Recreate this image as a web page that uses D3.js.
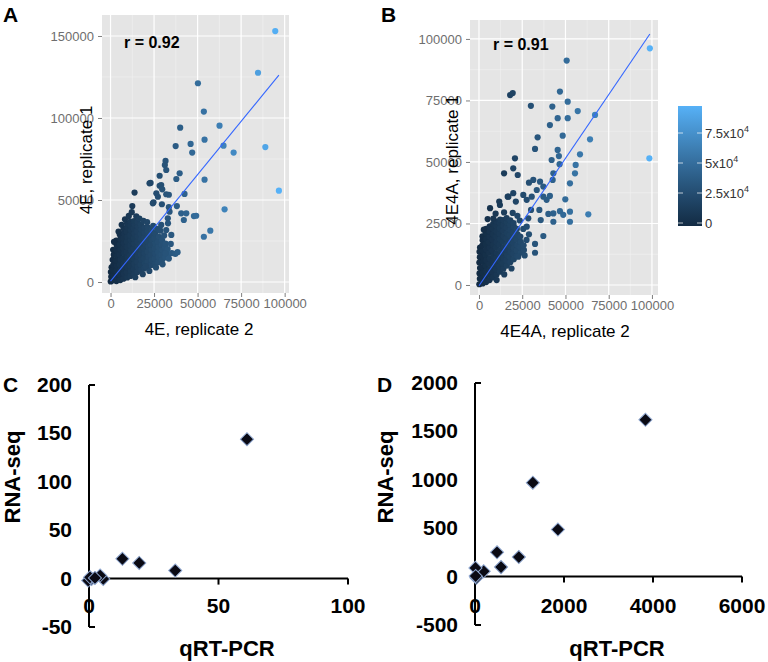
<!DOCTYPE html>
<html><head><meta charset="utf-8">
<script src="https://cdn.jsdelivr.net/npm/d3@7"></script>
<style>body{margin:0;background:#fff}</style>
</head><body>
<svg id="c" width="768" height="662"></svg>
<script>
// ---------- DATA (values in thousands for panels A/B) ----------
const aBlob = [
[0.1,0.3],[0.4,3.2],[0.2,6.1],[0.6,9.0],
[1.4,1.0],[1.7,4.2],[1.3,7.3],[1.6,10.4],[1.2,13.5],[1.8,16.6],[1.5,19.6],
[3.4,0.6],[3.7,3.8],[3.3,6.9],[3.6,10.0],[3.2,13.1],[3.8,16.2],[3.4,19.3],[3.6,22.4],[3.3,25.2],
[5.6,1.2],[5.3,4.4],[5.7,7.5],[5.4,10.6],[5.8,13.7],[5.2,16.8],[5.6,19.9],[5.4,23.0],[5.7,26.1],[5.3,28.9],
[7.4,2.0],[7.7,5.1],[7.3,8.2],[7.6,11.3],[7.2,14.4],[7.8,17.5],[7.4,20.6],[7.6,23.7],[7.3,26.8],[7.7,29.9],[7.5,32.6],
[9.6,2.8],[9.3,5.9],[9.7,9.0],[9.4,12.1],[9.8,15.2],[9.2,18.3],[9.6,21.4],[9.4,24.5],[9.7,27.6],[9.3,30.7],[9.6,33.6],[9.5,35.8],
[11.4,3.7],[11.7,6.8],[11.3,9.9],[11.6,13.0],[11.2,16.1],[11.8,19.2],[11.4,22.3],[11.6,25.4],[11.3,28.5],[11.7,31.6],[11.5,34.5],[11.4,36.9],
[13.6,4.8],[13.3,7.9],[13.7,11.0],[13.4,14.1],[13.8,17.2],[13.2,20.3],[13.6,23.4],[13.4,26.5],[13.7,29.6],[13.3,32.7],[13.6,35.4],[13.5,37.2],
[15.4,6.1],[15.7,9.2],[15.3,12.3],[15.6,15.4],[15.2,18.5],[15.8,21.6],[15.4,24.7],[15.6,27.8],[15.3,30.9],[15.7,33.8],[15.5,36.6],
[17.6,7.4],[17.3,10.5],[17.7,13.6],[17.4,16.7],[17.8,19.8],[17.2,22.9],[17.6,26.0],[17.4,29.1],[17.7,32.0],[17.5,34.8],
[19.4,8.3],[19.7,11.4],[19.3,14.5],[19.6,17.6],[19.2,20.7],[19.8,23.8],[19.4,26.9],[19.6,30.0],[19.5,33.1],
[21.6,9.2],[21.3,12.3],[21.7,15.4],[21.4,18.5],[21.8,21.6],[21.2,24.7],[21.6,27.8],[21.4,30.9],[21.5,33.2],
[23.4,10.3],[23.7,13.4],[23.3,16.5],[23.6,19.6],[23.2,22.7],[23.8,25.8],[23.4,28.9],[23.6,31.6],
[25.6,11.2],[25.3,14.3],[25.7,17.4],[25.4,20.5],[25.8,23.6],[25.2,26.7],[25.6,29.8],
[27.4,12.1],[27.7,15.2],[27.3,18.3],[27.6,21.4],[27.2,24.5],[27.8,27.6],
[29.6,13.4],[29.3,16.5],[29.7,19.6],[29.4,22.7],[29.6,25.6],
[31.4,15.0],[31.7,18.1],[31.3,21.2],[31.6,23.4],
[33.2,17.0],[32.8,20.1],
[2.0,24.5],[4.6,30.8],[6.4,34.9],[8.3,38.2],[10.5,40.3],[12.2,42.6],[14.8,40.1],[16.6,38.7],[18.9,37.3],[21.0,36.5],[24.5,34.2],[26.8,32.4],
[22.3,6.7],[26.1,8.9],[29.9,10.8],[33.5,14.3],[35.2,17.6],[34.6,23.2],[30.8,28.4],[28.6,31.3],[18.5,4.8],[14.2,2.9]
];
const aOutliers = [
[94.6,153],[84.7,127.6],[88.9,82.3],[96.7,55.7],[50.2,121.2],[53.6,103.9],[62.6,95.3],[40,94.1],[54,86.8],[46,84.2],
[37.4,82.9],[64.9,83.1],[70.7,78.9],[46.9,78.9],[31.6,73.8],[31.2,71.3],[32,68.3],[39.7,66.3],[28.2,64.8],[37.8,62.8],
[23,60.4],[29.1,59.1],[28.2,58.7],[29.7,56.5],[33.5,53.2],[42.5,53.7],[54,62.4],[13.8,54.5],[24.7,48.6],[29.5,47.4],
[33.5,45.6],[38.1,46.3],[40.6,41.9],[43.5,41.9],[42.1,37.8],[47.9,40.2],[49.2,40.4],[65.5,44.3],[57.3,31.3],[53.6,27.6],
[31.6,17.5],[37.2,17.1],[38.5,18.2],[20.3,9.5],[33.9,42.9],[32.9,38.8],[26.3,54.1],[22.4,60.2],[12.5,46.3],[27.2,52],
[32,53.5],[29.1,34.8],[32,31.7],[34.9,28.7],[33,35.8],[24.3,48]
];
const bBlob = [
[0.2,0.3],[0.5,2.5],[0.3,4.7],[0.6,6.9],[0.2,9.1],[0.5,11.3],[0.3,13.5],[0.6,15.2],
[2.1,0.6],[1.8,2.8],[2.2,5.0],[1.9,7.2],[2.3,9.4],[1.8,11.6],[2.2,13.8],[1.9,16.0],[2.1,18.2],[2.0,19.8],
[4.1,1.2],[3.8,3.4],[4.2,5.6],[3.9,7.8],[4.3,10.0],[3.8,12.2],[4.2,14.4],[3.9,16.6],[4.1,18.8],[4.0,21.0],[4.2,22.8],
[6.1,2.0],[5.8,4.2],[6.2,6.4],[5.9,8.6],[6.3,10.8],[5.8,13.0],[6.2,15.2],[5.9,17.4],[6.1,19.6],[6.0,21.8],[6.2,23.8],
[8.1,3.1],[7.8,5.3],[8.2,7.5],[7.9,9.7],[8.3,11.9],[7.8,14.1],[8.2,16.3],[7.9,18.5],[8.1,20.7],[8.0,22.9],[8.2,24.8],
[10.1,4.2],[9.8,6.4],[10.2,8.6],[9.9,10.8],[10.3,13.0],[9.8,15.2],[10.2,17.4],[9.9,19.6],[10.1,21.8],[10.0,24.0],[10.2,25.8],
[12.1,5.4],[11.8,7.6],[12.2,9.8],[11.9,12.0],[12.3,14.2],[11.8,16.4],[12.2,18.6],[11.9,20.8],[12.1,23.0],[12.0,25.2],[12.2,26.6],
[14.1,6.6],[13.8,8.8],[14.2,11.0],[13.9,13.2],[14.3,15.4],[13.8,17.6],[14.2,19.8],[13.9,22.0],[14.1,24.2],[14.0,26.4],
[16.1,7.9],[15.8,10.1],[16.2,12.3],[15.9,14.5],[16.3,16.7],[15.8,18.9],[16.2,21.1],[15.9,23.3],[16.1,25.5],[16.0,27.2],
[18.1,9.2],[17.8,11.4],[18.2,13.6],[17.9,15.8],[18.3,18.0],[17.8,20.2],[18.2,22.4],[17.9,24.6],[18.1,26.3],
[20.1,10.5],[19.8,12.7],[20.2,14.9],[19.9,17.1],[20.3,19.3],[19.8,21.5],[20.2,23.7],[20.0,25.2],
[22.1,11.8],[21.8,14.0],[22.2,16.2],[21.9,18.4],[22.3,20.6],[21.9,22.8],
[24.1,13.1],[23.8,15.3],[24.2,17.5],[23.9,19.7],
[26.0,14.2],[25.8,16.1],
[5.0,26.8],[6.4,31.2],[8.3,27.0],[12.1,32.5],[17.0,35.9],[14.5,29.5],[19.5,29.3],[22.2,28.1],[23.6,26.2],[25.6,22.8],
[27.5,18.3],[26.4,12.0],[18.8,6.7],[14.6,4.3],[10.2,2.0],[28.9,20.6],[2.8,22.5],[9.6,29.0]
];
const bOutliers = [
[98.8,96.2],[98.5,51.5],[50.7,91.2],[46.8,78.6],[51.3,74.5],[42.4,72.5],[57.1,70.7],[51.3,67.8],[45.5,67.8],[41,65],
[67.1,69.1],[64.2,59.2],[30,72.8],[33.9,60],[48.4,60.7],[32.4,55.3],[45.5,54.9],[58.4,53.1],[46.2,52.4],[46.6,49.1],
[42,50.8],[55.9,48.8],[55.5,45.4],[52.6,41.3],[43,45.4],[42.6,42.7],[49.9,34.8],[52.6,29.8],[48.7,28.5],[43,29.1],
[46.8,30],[63.2,28.7],[52.6,25.7],[43,25.7],[37.2,19.9],[32.4,16.7],[32.4,13.1],[22.7,11.5],[18,77.2],[19.5,78],
[19.8,47.4],[22.4,44.7],[14.5,45.4],[20.8,51.5],[28.9,41.6],[31.4,42.7],[35.3,42],[37.2,40],[30.5,35.9],[33.4,38.6],
[37.2,35.9],[39.1,34.6],[41,36.2],[25.6,36.6],[27.6,34.6],[19.8,37.3],[16.6,35.9],[11.7,33.9],[21.3,33.9],[30.1,30.5],
[34.9,30.5],[28.5,27.1],[35.7,26.4],[27.6,23.7],[40.1,28.9]
];
const aFit = [[0,0.5],[96.7,126.2]];
const bFit = [[0,-0.3],[98.8,102.0]];
const aR = "r = 0.92", bR = "r = 0.91";
const abXTicks = [0,25,50,75,100];
const abXLabels = ["0","25000","50000","75000","100000"];
const aYTicks = [0,50,100,150];
const aYLabels = ["0","50000","100000","150000"];
const bYTicks = [0,25,50,75,100];
const bYLabels = ["0","25000","50000","75000","100000"];
const cbTicks = [0,25,50,75];
const cbLabels = ["0","2.5x10","5x10","7.5x10"];

// panel C / D (qRT-PCR, RNA-seq)
const cPoints = [[61,144],[33.3,8.3],[19.4,16.2],[12.9,20.4],[5.5,-0.3],[4.3,3.1],[1.0,-0.3],[-0.3,-2],[0.4,1.3],[2.3,0.7]];
const dPoints = [[3830,1620],[1300,970],[1863,486],[985,202],[495,251],[585,98],[195,55],[10,90],[30,-13],[15,5]];
const cXTicks = [0,50,100], cYTicks = [-50,0,50,100,150,200];
const dXTicks = [0,2000,4000,6000], dYTicks = [-500,0,500,1000,1500,2000];

// ---------- DRAW ----------
const svg = d3.select("#c");
const F = "'Liberation Sans', Arial, Helvetica, sans-serif";
const grad = d3.interpolateLab("#132B43", "#56B1F7");

function gg(o) {
  const g = svg.append("g");
  const x = d3.scaleLinear().domain(o.xd).range(o.xr);
  const y = d3.scaleLinear().domain(o.yd).range(o.yr);
  g.append("rect").attr("x", o.xr[0]).attr("y", o.yr[1])
    .attr("width", o.xr[1] - o.xr[0]).attr("height", o.yr[0] - o.yr[1]).attr("fill", "#e5e5e5");
  const mids = t => t.slice(1).map((v, i) => (v + t[i]) / 2);
  const xm = mids(o.xt), ym = mids(o.yt);
  g.selectAll("line.vmin").data(xm).join("line").attr("x1", x).attr("x2", x)
    .attr("y1", o.yr[0]).attr("y2", o.yr[1]).attr("stroke", "#f2f2f2").attr("stroke-width", 0.6);
  g.selectAll("line.hmin").data(ym).join("line").attr("y1", y).attr("y2", y)
    .attr("x1", o.xr[0]).attr("x2", o.xr[1]).attr("stroke", "#f2f2f2").attr("stroke-width", 0.6);
  g.selectAll("line.vmaj").data(o.xt).join("line").attr("x1", x).attr("x2", x)
    .attr("y1", o.yr[0]).attr("y2", o.yr[1]).attr("stroke", "#fff").attr("stroke-width", 1.2);
  g.selectAll("line.hmaj").data(o.yt).join("line").attr("y1", y).attr("y2", y)
    .attr("x1", o.xr[0]).attr("x2", o.xr[1]).attr("stroke", "#fff").attr("stroke-width", 1.2);
  const c = d3.scaleLinear().domain([0, o.cmax]).range([0, 1]).clamp(true);
  g.append("g").selectAll("circle").data(o.pts).join("circle")
    .attr("cx", d => x(d[0])).attr("cy", d => y(d[1])).attr("r", 3.1)
    .attr("fill", d => grad(c(d[0])));
  g.append("path").datum(o.fit).attr("d", d3.line().x(d => x(d[0])).y(d => y(d[1])))
    .attr("stroke", "#3366FF").attr("stroke-width", 1.1).attr("fill", "none");
  const ax = g.append("g").attr("transform", `translate(0,${o.yr[0]})`)
    .call(d3.axisBottom(x).tickValues(o.xt).tickSize(4).tickPadding(2).tickFormat((d, i) => o.xl[i]));
  const ay = g.append("g").attr("transform", `translate(${o.xr[0]},0)`)
    .call(d3.axisLeft(y).tickValues(o.yt).tickSize(4).tickPadding(4).tickFormat((d, i) => o.yl[i]));
  [ax, ay].forEach(a => {
    a.select(".domain").remove();
    a.selectAll("line").attr("stroke", "#7f7f7f");
    a.selectAll("text").attr("fill", "#6e6e6e").style("font-size", "13px").style("font-family", F);
  });
  g.append("text").attr("x", o.xtPos[0]).attr("y", o.xtPos[1]).attr("text-anchor", "middle")
    .style("font-family", F).style("font-size", "17px").text(o.xTitle);
  g.append("text").attr("transform", `translate(${o.ytPos[0]},${o.ytPos[1]}) rotate(-90)`)
    .attr("text-anchor", "middle").attr("dominant-baseline", "central")
    .style("font-family", F).style("font-size", "17px").text(o.yTitle);
  g.append("text").attr("x", o.rPos[0]).attr("y", o.rPos[1]).style("font-family", F)
    .style("font-size", "16px").style("font-weight", "bold").text(o.r);
  return {x, y};
}

gg({xd: [-4.9, 102.5], xr: [102, 289], yd: [-6.7, 162.8], yr: [293, 15],
  xt: abXTicks, xl: abXLabels, yt: aYTicks, yl: aYLabels,
  pts: aBlob.concat(aOutliers), fit: aFit, cmax: 96.7,
  xTitle: "4E, replicate 2", xtPos: [199, 335], yTitle: "4E, replicate 1", ytPos: [86, 160],
  r: aR, rPos: [124, 48]});
gg({xd: [-5.2, 103.5], xr: [470, 658], yd: [-4.07, 107.7], yr: [295, 20],
  xt: abXTicks, xl: abXLabels, yt: bYTicks, yl: bYLabels,
  pts: bBlob.concat(bOutliers), fit: bFit, cmax: 98.8,
  xTitle: "4E4A, replicate 2", xtPos: [565, 337], yTitle: "4E4A, replicate 1", ytPos: [452, 160],
  r: bR, rPos: [493, 50]});

// colour bar
const cb = svg.append("g");
const cy = d3.scaleLinear().domain([-2.5, 97.5]).range([226, 106]);
const defs = svg.append("defs");
const lg = defs.append("linearGradient").attr("id", "cbg").attr("x1", 0).attr("y1", 1).attr("x2", 0).attr("y2", 0);
d3.range(0, 1.01, 0.1).forEach(t => lg.append("stop").attr("offset", t).attr("stop-color", grad(t)));
cb.append("rect").attr("x", 678).attr("y", cy(97.5)).attr("width", 24).attr("height", cy(-2.5) - cy(97.5)).attr("fill", "url(#cbg)");
cb.selectAll("line.l").data(cbTicks).join("line").attr("x1", 678).attr("x2", 683).attr("y1", cy).attr("y2", cy).attr("stroke", "#fff").attr("stroke-opacity", 0.7);
cb.selectAll("line.r").data(cbTicks).join("line").attr("x1", 697).attr("x2", 702).attr("y1", cy).attr("y2", cy).attr("stroke", "#fff").attr("stroke-opacity", 0.7);
const cbt = cb.selectAll("text").data(cbTicks).join("text").attr("x", 705).attr("y", d => cy(d) + 5)
  .style("font-family", F).style("font-size", "13px").attr("fill", "#333");
cbt.append("tspan").text((d, i) => cbLabels[i]);
cbt.filter(d => d !== 0).append("tspan").attr("dy", -6).style("font-size", "9px").text("4");

// panel letters
[["A", 3, 22], ["B", 381, 22], ["C", 3, 392], ["D", 377, 392]].forEach(([t, x, y]) =>
  svg.append("text").attr("x", x).attr("y", y).style("font-family", F).style("font-size", "21px")
    .style("font-weight", "bold").text(t));

// Excel-like panels
function xl(o) {
  const g = svg.append("g");
  const x = d3.scaleLinear().domain(o.xd).range(o.xr);
  const y = d3.scaleLinear().domain(o.yd).range(o.yr);
  const y0 = y(0);
  g.append("line").attr("x1", o.xr[0]).attr("x2", o.xr[0]).attr("y1", o.yr[0]).attr("y2", o.yr[1]).attr("stroke", "#000").attr("stroke-width", 2);
  g.append("line").attr("x1", o.xr[0]).attr("x2", o.xr[1]).attr("y1", y0).attr("y2", y0).attr("stroke", "#000").attr("stroke-width", 2);
  const yEnds = [o.yd[0], o.yd[1]];
  g.selectAll("line.yt").data(yEnds).join("line").attr("x1", o.xr[0]).attr("x2", o.xr[0] + 6)
    .attr("y1", y).attr("y2", y).attr("stroke", "#000").attr("stroke-width", 2);
  g.selectAll("line.xt").data(o.xt.slice(1)).join("line").attr("x1", x).attr("x2", x)
    .attr("y1", y0).attr("y2", y0 + 6).attr("stroke", "#000").attr("stroke-width", 2);
  g.selectAll("text.yl").data(o.yt).join("text").attr("x", o.xr[0] - 17).attr("y", d => y(d) + 7)
    .attr("text-anchor", "end").style("font-family", F).style("font-size", "21px").style("font-weight", "bold").text(d => d);
  g.selectAll("text.xl").data(o.xt).join("text").attr("x", x).attr("y", 613)
    .attr("text-anchor", "middle").style("font-family", F).style("font-size", "21px").style("font-weight", "bold").text(d => d);
  const sq = d3.symbol().type(d3.symbolSquare).size(86);
  g.selectAll("path.pt").data(o.pts).join("path").attr("d", sq)
    .attr("transform", d => `translate(${x(d[0])},${y(d[1])}) rotate(45)`)
    .attr("fill", "#0a0a14").attr("stroke", "#8ea6cf").attr("stroke-width", 1);
  g.append("text").attr("x", o.xtPos).attr("y", 656).attr("text-anchor", "middle")
    .style("font-family", F).style("font-size", "22px").style("font-weight", "bold").text("qRT-PCR");
  g.append("text").attr("transform", `translate(${o.ytPos},477) rotate(-90)`).attr("text-anchor", "middle")
    .attr("dominant-baseline", "central").style("font-family", F).style("font-size", "22px").style("font-weight", "bold").text("RNA-seq");
}
xl({xd: [0, 100], xr: [89, 348], yd: [-50, 200], yr: [627, 385], xt: cXTicks, yt: cYTicks, pts: cPoints, xtPos: 227, ytPos: 12});
xl({xd: [0, 6000], xr: [475, 742], yd: [-500, 2000], yr: [625, 383], xt: dXTicks, yt: dYTicks, pts: dPoints, xtPos: 617, ytPos: 385});
</script>
</body></html>
